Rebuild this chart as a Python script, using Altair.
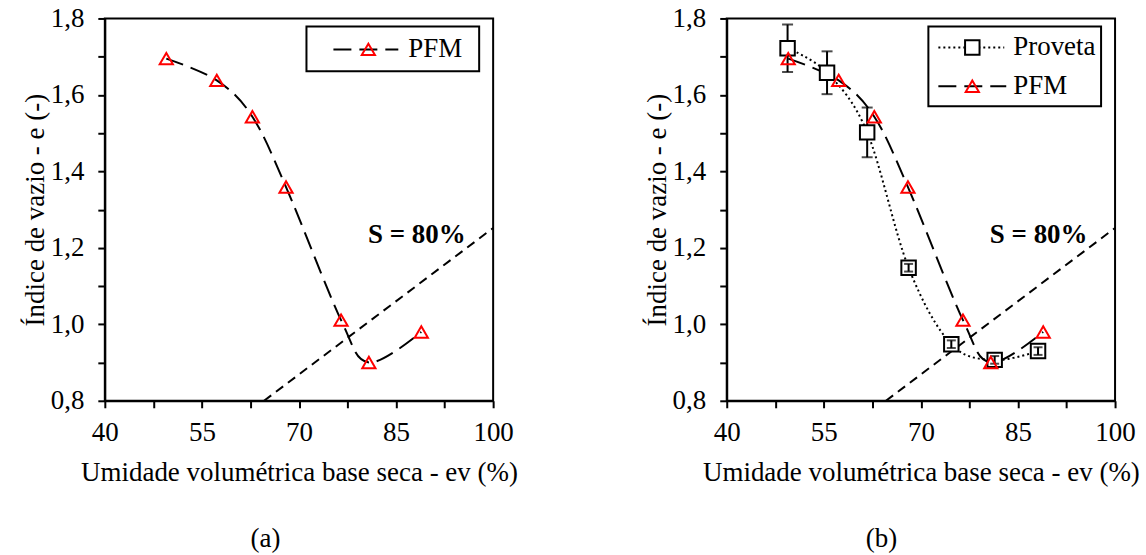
import altair as alt
import pandas as pd

# ---------------- data ----------------
pfm_x = [49.5, 57.3, 62.8, 68.0, 76.5, 80.8, 88.9]
pfm_y = [1.695, 1.638, 1.543, 1.359, 1.011, 0.900, 0.980]

prov_x = [49.4, 55.5, 61.7, 68.1, 74.7, 81.4, 88.1]
prov_y = [1.722, 1.658, 1.502, 1.148, 0.948, 0.907, 0.930]
prov_err = [0.062, 0.056, 0.065, 0.010, 0.010, 0.010, 0.010]

s80_x = [64.6, 100.0]
s80_y = [0.800, 1.252]

s80_label = ["S = 80%"]
s80_label_x = [88.2]
s80_label_y = [1.233]

x_ticks = [40, 47.5, 55, 62.5, 70, 77.5, 85, 92.5, 100]
y_ticks = [0.8, 0.9, 1.0, 1.1, 1.2, 1.3, 1.4, 1.5, 1.6, 1.7, 1.8]

x_title = "Umidade volumétrica base seca - ev (%)"
y_title = "Índice de vazio - e (-)"
panel_labels = ["(a)", "(b)"]

FONT = "Liberation Serif, Times New Roman, serif"
FS = 27

pfm = pd.DataFrame({"x": pfm_x, "y": pfm_y})
prov = pd.DataFrame({"x": prov_x, "y": prov_y, "err": prov_err})
prov["lo"] = prov["y"] - prov["err"]
prov["hi"] = prov["y"] + prov["err"]
s80 = pd.DataFrame({"x": s80_x, "y": s80_y})
s80_txt = pd.DataFrame({"x": s80_label_x, "y": s80_label_y, "t": s80_label})
one = pd.DataFrame({"k": [0]})

XS = alt.Scale(domain=[40, 100], nice=False, zero=False)
YS = alt.Scale(domain=[0.8, 1.8], nice=False, zero=False)
x_axis = alt.Axis(values=x_ticks, labelExpr="datum.value % 15 == 10 ? datum.label : ''",
                  labelOverlap=False, labelFlush=False)
y_axis = alt.Axis(values=y_ticks,
                  labelExpr="round(datum.value*10) % 2 == 0 ? replace(format(datum.value, '.1f'), '.', ',') : ''",
                  labelOverlap=False, labelFlush=False)


def X(f="x"):
    return alt.X(f"{f}:Q", scale=XS, axis=x_axis, title=x_title)


def Y(f="y"):
    return alt.Y(f"{f}:Q", scale=YS, axis=y_axis, title=y_title)


def common_layers():
    s_line = alt.Chart(s80).mark_line(color="black", strokeWidth=2, strokeDash=[9, 6]).encode(
        x=X(), y=Y(), order="x:Q")
    s_text = alt.Chart(s80_txt).mark_text(font=FONT, fontSize=FS, fontWeight="bold", color="black").encode(
        x=X(), y=Y(), text="t:N")
    pfm_line = alt.Chart(pfm).mark_line(color="black", strokeWidth=2, strokeDash=[18, 8],
                                        interpolate="cardinal").encode(x=X(), y=Y(), order="x:Q")
    pfm_pts = alt.Chart(pfm).mark_point(shape="triangle-up", size=175, color="red", filled=False,
                                        strokeWidth=2, opacity=1).encode(x=X(), y=Y())
    return s_line, s_text, pfm_line, pfm_pts


def legend_pfm(x0, x1, xm, xt, yy):
    line = alt.Chart(one).mark_rule(color="black", strokeWidth=2, strokeDash=[18, 8]).encode(
        x=alt.value(x0), x2=alt.value(x1), y=alt.value(yy))
    pt = alt.Chart(one).mark_point(shape="triangle-up", size=175, color="red", filled=False,
                                   strokeWidth=2, opacity=1).encode(x=alt.value(xm), y=alt.value(yy))
    txt = alt.Chart(one).mark_text(font=FONT, fontSize=FS, align="left", baseline="middle",
                                   color="black", text="PFM").encode(x=alt.value(xt), y=alt.value(yy))
    return [line, pt, txt]


def legend_box(y1):
    return alt.Chart(one).mark_rect(fill="white", stroke="black", strokeWidth=2).encode(
        x=alt.value(202), x2=alt.value(375), y=alt.value(8), y2=alt.value(y1))


def panel_label(txt, px):
    return alt.Chart(one).mark_text(font=FONT, fontSize=FS, color="black", text=txt,
                                    baseline="middle").encode(x=alt.value(px), y=alt.value(521))


# ---------------- panel (a) ----------------
s_line, s_text, pfm_line, pfm_pts = common_layers()
panel_a = alt.layer(
    s_line, pfm_line, pfm_pts, s_text,
    legend_box(53), *legend_pfm(229, 294, 264, 304, 31),
    panel_label(panel_labels[0], 161),
).properties(width=389, height=383)

# ---------------- panel (b) ----------------
s_line, s_text, pfm_line, pfm_pts = common_layers()
prov_line = alt.Chart(prov).mark_line(color="black", strokeWidth=2, strokeDash=[2, 3],
                                      interpolate="cardinal").encode(x=X(), y=Y(), order="x:Q")
err_big = alt.Chart(prov).transform_filter("datum.err > 0.02").mark_errorbar(
    ticks={"size": 11, "thickness": 2, "color": "black"}, rule={"strokeWidth": 2, "color": "black"},
    color="black").encode(x=X(), y=Y("lo"), y2="hi:Q")
err_small = alt.Chart(prov).transform_filter("datum.err <= 0.02").mark_errorbar(
    ticks={"size": 9, "thickness": 2, "color": "black"}, rule={"strokeWidth": 2, "color": "black"},
    color="black").encode(x=X(), y=Y("lo"), y2="hi:Q")
prov_pts = alt.Chart(prov).mark_point(shape="square", size=210, fill="white", stroke="black",
                                      strokeWidth=2, opacity=1, fillOpacity=1).encode(x=X(), y=Y())

leg_prov = [
    alt.Chart(one).mark_rule(color="black", strokeWidth=2, strokeDash=[2, 3]).encode(
        x=alt.value(212), x2=alt.value(278), y=alt.value(29)),
    alt.Chart(one).mark_point(shape="square", size=210, fill="white", stroke="black", strokeWidth=2,
                              opacity=1, fillOpacity=1).encode(x=alt.value(246), y=alt.value(29)),
    alt.Chart(one).mark_text(font=FONT, fontSize=FS, align="left", baseline="middle", color="black",
                             text="Proveta").encode(x=alt.value(287), y=alt.value(29)),
]

panel_b = alt.layer(
    s_line, prov_line, pfm_line, err_big, prov_pts, err_small, pfm_pts, s_text,
    legend_box(88), *leg_prov, *legend_pfm(212, 280, 246, 287, 68),
    panel_label(panel_labels[1], 155),
).properties(width=389, height=383)

chart = alt.hconcat(panel_a, panel_b, spacing=234, bounds="flush").properties(
    padding={"left": 20, "top": 3, "right": 5, "bottom": 5}
).configure_axis(
    domainColor="black", domainWidth=2, tickColor="black", tickWidth=2, tickSize=7,
    labelFont=FONT, labelFontSize=FS, labelColor="black",
    titleFont=FONT, titleFontSize=FS, titleFontWeight="normal", titleColor="black", grid=False,
).configure_axisX(labelPadding=12, titlePadding=14).configure_axisY(labelPadding=14, titlePadding=1
).configure_view(stroke="black", strokeWidth=2)

chart.save("out.html", embed_options={"renderer": "svg", "actions": False})
